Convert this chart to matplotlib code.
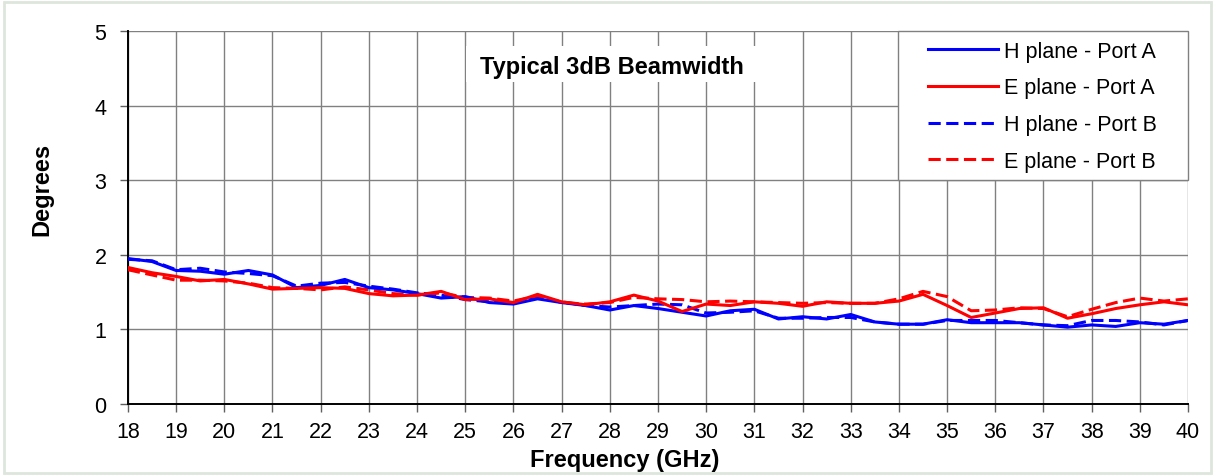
import matplotlib
matplotlib.use("Agg")
import matplotlib.pyplot as plt
from matplotlib.patches import Rectangle

# ── Data (0.5 GHz steps) ─────────────────────────────────────────────────────
freq = [18 + 0.5 * i for i in range(45)]

h_port_a = [1.95, 1.91, 1.79, 1.78, 1.74, 1.79, 1.73, 1.56, 1.59, 1.67,
            1.56, 1.53, 1.48, 1.42, 1.44, 1.36, 1.34, 1.41, 1.36, 1.32,
            1.26, 1.32, 1.28, 1.23, 1.18, 1.25, 1.27, 1.14, 1.17, 1.14,
            1.20, 1.10, 1.07, 1.07, 1.13, 1.09, 1.09, 1.09, 1.06, 1.03,
            1.06, 1.04, 1.09, 1.07, 1.12]
e_port_a = [1.83, 1.76, 1.71, 1.65, 1.67, 1.61, 1.54, 1.55, 1.56, 1.55,
            1.48, 1.45, 1.46, 1.51, 1.40, 1.41, 1.36, 1.47, 1.37, 1.33,
            1.37, 1.46, 1.38, 1.24, 1.34, 1.32, 1.37, 1.35, 1.31, 1.37,
            1.35, 1.35, 1.38, 1.47, 1.32, 1.16, 1.22, 1.28, 1.29, 1.15,
            1.21, 1.28, 1.33, 1.37, 1.33]
h_port_b = [1.94, 1.92, 1.80, 1.82, 1.77, 1.75, 1.72, 1.58, 1.62, 1.63,
            1.58, 1.54, 1.49, 1.46, 1.40, 1.37, 1.36, 1.43, 1.37, 1.32,
            1.30, 1.32, 1.34, 1.33, 1.22, 1.23, 1.25, 1.15, 1.15, 1.16,
            1.16, 1.10, 1.07, 1.07, 1.12, 1.12, 1.12, 1.09, 1.06, 1.05,
            1.12, 1.12, 1.10, 1.06, 1.12]
e_port_b = [1.80, 1.73, 1.66, 1.66, 1.65, 1.62, 1.56, 1.55, 1.53, 1.57,
            1.53, 1.48, 1.46, 1.49, 1.43, 1.42, 1.38, 1.45, 1.36, 1.34,
            1.36, 1.43, 1.41, 1.40, 1.37, 1.38, 1.37, 1.36, 1.35, 1.36,
            1.35, 1.35, 1.41, 1.51, 1.44, 1.25, 1.26, 1.29, 1.28, 1.17,
            1.27, 1.36, 1.42, 1.38, 1.41]

labels = ["H plane - Port A", "E plane - Port A",
          "H plane - Port B", "E plane - Port B"]

plt.rcParams["font.family"] = ["Liberation Sans", "DejaVu Sans"]

fig = plt.figure(figsize=(12.15, 4.77), dpi=100)
# light outer frame, Excel style
fig.patches.append(Rectangle((0.003, 0.006), 0.994, 0.988, transform=fig.transFigure,
                             fill=False, edgecolor="#dde6dd", linewidth=2))
ax = fig.add_axes([0.1053, 0.1509, 0.8725, 0.782])

dash = (0, (4, 1.8))
ax.plot(freq, h_port_a, color="#0000ff", lw=2.2, label=labels[0], zorder=4)
ax.plot(freq, e_port_a, color="#ff0000", lw=2.2, label=labels[1], zorder=4)
ax.plot(freq, h_port_b, color="#0000ff", lw=2.2, ls=dash, label=labels[2], zorder=3)
ax.plot(freq, e_port_b, color="#ff0000", lw=2.2, ls=dash, label=labels[3], zorder=3)

ax.set_xlim(18, 40)
ax.set_ylim(0, 5)
ax.set_xticks(range(18, 41))
ax.set_yticks(range(0, 6))
ax.grid(True, color="#808080", linewidth=1.0)
ax.set_axisbelow(True)
for s in ["top", "right"]:
    ax.spines[s].set_visible(False)
for s in ["left", "bottom"]:
    ax.spines[s].set_color("black")
    ax.spines[s].set_linewidth(1.4)
ax.tick_params(axis="both", direction="out", length=5.5, width=1, color="#606060",
               labelsize=15.5)
ax.tick_params(axis="x", pad=7)
ax.tick_params(axis="y", pad=10)

ax.set_xlabel("Frequency (GHz)", fontsize=17, fontweight="bold")
ax.set_ylabel("Degrees", fontsize=17, fontweight="bold")
ax.xaxis.set_label_coords(0.4689, -0.118)
ax.yaxis.set_label_coords(-0.0708, 0.579)

# title box inside the plot area
ax.add_patch(Rectangle((0.3189, 0.863), 0.279, 0.097, transform=ax.transAxes,
                       facecolor="white", edgecolor="none", zorder=5))
ax.text(0.332, 0.8887, "Typical 3dB Beamwidth", transform=ax.transAxes,
        fontsize=17, fontweight="bold", ha="left", va="baseline", zorder=6)

# legend box (Excel keeps wide side margins)
ax.add_patch(Rectangle((0.7264, 0.6005), 0.2736, 0.3995, transform=ax.transAxes,
                       facecolor="white", edgecolor="#808080", linewidth=1.0,
                       zorder=5, clip_on=False))
leg = ax.legend(loc="upper left", bbox_to_anchor=(0.7547, 0.974), fontsize=15.5,
                frameon=False, borderpad=0, borderaxespad=0,
                handlelength=3.25, labelspacing=0.73, handletextpad=0.3)
leg.set_zorder(7)

fig.savefig("out.png", dpi=100)
